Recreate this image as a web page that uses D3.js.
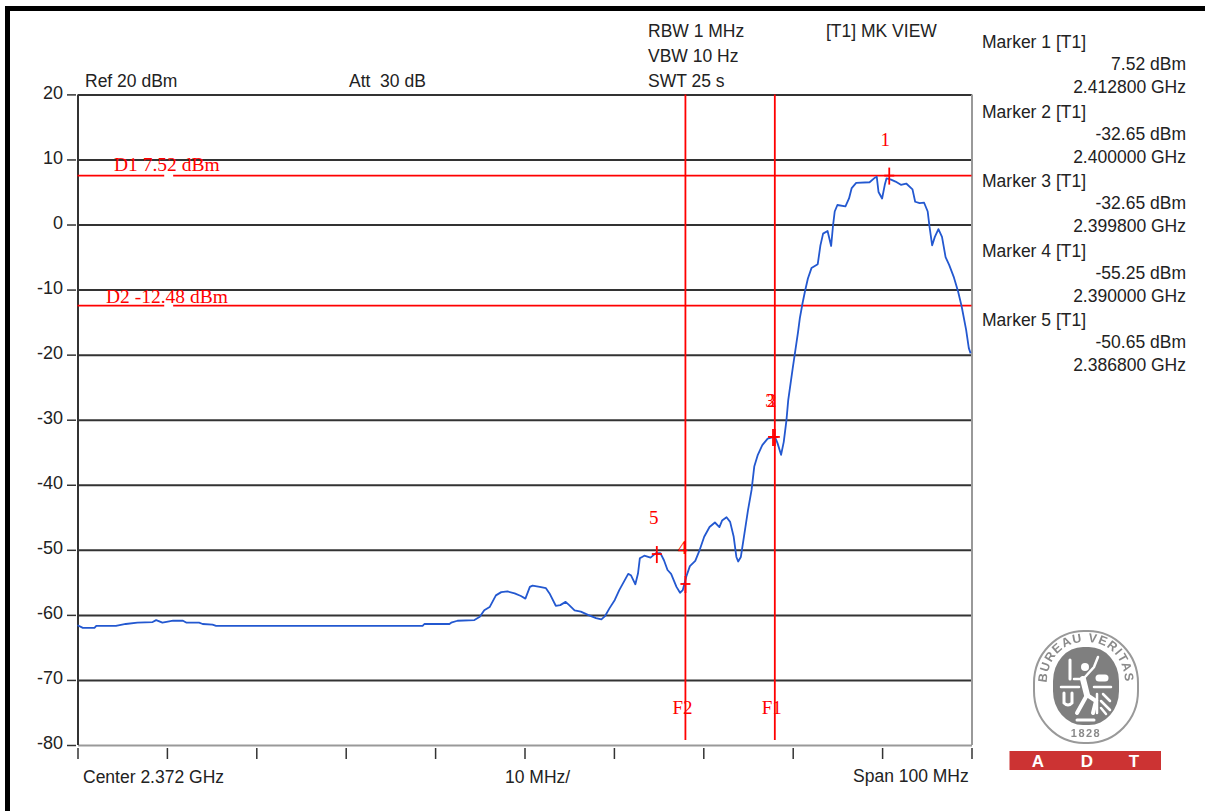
<!DOCTYPE html>
<html>
<head>
<meta charset="utf-8">
<title>Spectrum analyzer trace</title>
<script src="https://d3js.org/d3.v7.min.js"></script>
<style>
  html, body { margin: 0; padding: 0; background: #fff; }
  svg { display: block; }
  text { font-family: "Liberation Sans", Arial, sans-serif; }
  .red { font-family: "Liberation Serif", serif; fill: #f00; }
</style>
</head>
<body>
<div id="chart"></div>
<script>
// Frequency of each trace point, MHz
const traceFreq = [2322.0, 2322.6, 2323.9, 2324.1, 2326.3, 2327.4, 2328.7, 2330.4, 2330.8, 2331.5,
  2332.7, 2333.8, 2334.2, 2335.6, 2336.0, 2337.1, 2337.5, 2360.6, 2360.8, 2363.6,
  2363.8, 2364.5, 2366.4, 2367.0, 2367.5, 2368.1, 2368.8, 2369.4, 2370.1, 2370.9,
  2371.6, 2372.1, 2372.6, 2372.9, 2373.7, 2374.4, 2374.8, 2375.5, 2376.0, 2376.6,
  2377.0, 2377.6, 2378.3, 2379.1, 2380.0, 2380.6, 2381.0, 2381.5, 2382.1, 2382.6,
  2383.2, 2383.6, 2383.9, 2384.4, 2384.7, 2384.9, 2385.4, 2386.1, 2386.7, 2387.2,
  2387.6, 2388.0, 2388.4, 2389.0, 2389.4, 2389.7, 2390.1, 2390.5, 2391.1, 2391.6,
  2392.1, 2392.7, 2393.3, 2393.8, 2394.1, 2394.6, 2395.0, 2395.4, 2395.7, 2395.9,
  2396.2, 2396.6, 2397.0, 2397.4, 2397.7, 2398.1, 2398.6, 2399.2, 2400.0, 2400.3,
  2400.7, 2401.0, 2401.3, 2401.5, 2402.0, 2402.3, 2402.6, 2402.8, 2403.1, 2403.4,
  2403.7, 2404.1, 2404.8, 2405.1, 2405.4, 2405.9, 2406.3, 2406.5, 2406.7, 2407.0,
  2407.9, 2408.3, 2408.6, 2409.1, 2410.6, 2411.2, 2411.4, 2411.6, 2412.0, 2412.3,
  2412.5, 2413.0, 2413.5, 2414.1, 2414.7, 2415.4, 2415.7, 2416.2, 2416.7, 2417.1,
  2417.3, 2417.6, 2417.9, 2418.3, 2418.7, 2419.1, 2419.5, 2420.0, 2420.5, 2420.9,
  2421.4, 2421.7, 2421.9];

// Level of each trace point, dBm
const traceLevel = [-61.6, -62.0, -62.0, -61.7, -61.7, -61.4, -61.2, -61.1, -60.8, -61.2,
  -60.9, -60.9, -61.2, -61.2, -61.4, -61.5, -61.7, -61.7, -61.4, -61.4,
  -61.2, -60.9, -60.8, -60.3, -59.3, -58.8, -57.0, -56.5, -56.4, -56.7,
  -57.1, -57.5, -55.7, -55.5, -55.7, -55.9, -56.7, -58.6, -58.5, -58.0,
  -58.5, -59.3, -59.5, -60.0, -60.5, -60.7, -60.2, -59.0, -57.7, -56.2,
  -54.7, -53.7, -53.9, -55.3, -53.6, -51.3, -50.9, -51.2, -50.5, -50.5,
  -51.6, -53.1, -53.7, -55.7, -56.6, -56.2, -54.1, -52.5, -51.7, -50.0,
  -48.0, -46.5, -45.8, -46.5, -45.5, -45.0, -45.7, -48.0, -51.1, -51.8,
  -51.1, -47.5, -43.9, -40.8, -37.2, -35.4, -33.9, -32.9, -32.6, -33.6,
  -35.4, -33.4, -30.1, -27.0, -22.1, -19.3, -16.5, -14.4, -12.1, -10.1,
  -8.3, -6.7, -6.1, -3.2, -1.4, -1.0, -3.3, -0.3, 2.0, 3.0,
  2.8, 4.0, 5.6, 6.4, 6.5, 7.2, 7.35, 5.0, 4.0, 6.1,
  7.1, 6.9, 6.6, 6.1, 6.3, 5.4, 3.5, 3.3, 3.35, 2.0,
  -0.3, -3.2, -1.9, -0.7, -1.9, -5.0, -6.2, -8.0, -10.3, -12.6,
  -16.2, -19.0, -19.8];

// Axis ticks
const levelTicks = [20, 10, 0, -10, -20, -30, -40, -50, -60, -70, -80];
const freqTicks = [2322, 2332, 2342, 2352, 2362, 2372, 2382, 2392, 2402, 2412, 2422];

// Markers, from the table on the right
const markerNames = ['Marker 1 [T1]', 'Marker 2 [T1]', 'Marker 3 [T1]', 'Marker 4 [T1]', 'Marker 5 [T1]'];
const markerLevels = [7.52, -32.65, -32.65, -55.25, -50.65];
const markerFreqs = [2412.8, 2400.0, 2399.8, 2390.0, 2386.8];
const markerLevelText = ['7.52 dBm', '-32.65 dBm', '-32.65 dBm', '-55.25 dBm', '-50.65 dBm'];
const markerFreqText = ['2.412800 GHz', '2.400000 GHz', '2.399800 GHz', '2.390000 GHz', '2.386800 GHz'];
const markerIds = ['1', '2', '3', '4', '5'];

// Display lines and frequency lines
const displayLevels = [7.52, -12.48];
const displayNames = ['D1 7.52 dBm', 'D2 -12.48 dBm'];
const freqLines = [2390, 2400];
const freqLineNames = ['F2', 'F1'];

const width = 1205;
const height = 811;
const plot = { left: 78, right: 972, top: 94.4, bottom: 745 };

const svg = d3.select('#chart').append('svg')
  .attr('width', width)
  .attr('height', height);

// half a pixel left of the frame, that is where the F lines sit in the picture
const x = d3.scaleLinear().domain([2322, 2422]).range([plot.left - 0.5, plot.right - 0.5]);
const y = d3.scaleLinear().domain([20, -80]).range([plot.top, plot.bottom]);

// Screenshot frame, only top and left show in the picture
svg.append('path')
  .attr('d', `M7.5,${height} V8.5 H${width}`)
  .attr('fill', 'none')
  .attr('stroke', '#000')
  .attr('stroke-width', 5);

// Horizontal grid and level labels
function drawLevelAxis() {
  const axis = svg.append('g')
    .attr('transform', `translate(${plot.left},0)`)
    .call(d3.axisLeft(y).tickValues(levelTicks).tickSize(0).tickPadding(15).tickFormat(d => String(d)));
  axis.select('.domain').remove();
  axis.selectAll('text')
    .attr('font-size', 18)
    .attr('fill', '#222')
    .attr('dy', '0.2em')
    .style('font-family', '"Liberation Sans", Arial, sans-serif');

  // short dash left of the axis
  axis.selectAll('.tick').append('line')
    .attr('x1', -11).attr('x2', -2)
    .attr('stroke', '#333').attr('stroke-width', 1.5);

  // grid lines, the last one at -80 is the gray bottom edge
  axis.selectAll('.tick').append('line')
    .attr('x1', 0).attr('x2', plot.right - plot.left)
    .attr('stroke', d => d === -80 ? '#999' : '#333')
    .attr('stroke-width', 2);
}

// Frequency ticks sit a little below the bottom edge
function drawFreqAxis() {
  const axis = svg.append('g')
    .attr('transform', `translate(0,${plot.bottom + 3})`)
    .call(d3.axisBottom(x).tickValues(freqTicks).tickSize(11).tickFormat(''));
  axis.select('.domain').remove();
  axis.selectAll('line').attr('stroke', '#333').attr('stroke-width', 1.5);
}

function drawFrame() {
  svg.append('line')
    .attr('x1', plot.left).attr('x2', plot.left)
    .attr('y1', plot.top).attr('y2', plot.bottom)
    .attr('stroke', '#333').attr('stroke-width', 2);
  svg.append('line')
    .attr('x1', plot.right).attr('x2', plot.right)
    .attr('y1', plot.top).attr('y2', plot.bottom)
    .attr('stroke', '#999').attr('stroke-width', 2);
}

// Red display lines, F lines and their names
function drawReferenceLines() {
  displayLevels.forEach(level => {
    // the analyzer leaves a gap in the line under the label
    [[2322, 2331.7], [2332.7, 2422]].forEach(seg => {
      svg.append('line')
        .attr('x1', x(seg[0])).attr('x2', x(seg[1]))
        .attr('y1', y(level)).attr('y2', y(level))
        .attr('stroke', '#f00').attr('stroke-width', 1.8);
    });
  });

  svg.selectAll('.dname')
    .data(displayNames)
    .enter().append('text')
    .attr('class', 'red')
    .attr('x', (d, i) => i === 0 ? 114 : 106)
    .attr('y', (d, i) => y(displayLevels[i]) - (i === 0 ? 4.5 : 3))
    .attr('font-size', 19.5)
    .text(d => d);

  freqLines.forEach((f, i) => {
    svg.append('line')
      .attr('x1', x(f)).attr('x2', x(f))
      .attr('y1', plot.top).attr('y2', 740)
      .attr('stroke', '#f00').attr('stroke-width', 1.8);
    svg.append('text')
      .attr('class', 'red')
      .attr('x', x(f) - 3)
      .attr('y', 714)
      .attr('text-anchor', 'middle')
      .attr('font-size', 19)
      .text(freqLineNames[i]);
  });
}

function drawTrace() {
  const line = d3.line()
    .x(d => x(d[0]))
    .y(d => y(d[1]));
  svg.append('path')
    .datum(d3.zip(traceFreq, traceLevel))
    .attr('d', line)
    .attr('fill', 'none')
    .attr('stroke', '#2358d0')
    .attr('stroke-width', 1.8)
    .attr('stroke-linejoin', 'round');
}

// Marker crosses and their numbers
function drawMarkers() {
  markerIds.forEach((id, i) => {
    const mx = x(markerFreqs[i]);
    const my = y(markerLevels[i]);
    const g = svg.append('g').attr('stroke', '#f00').attr('stroke-width', 1.8);
    g.append('line').attr('x1', mx).attr('x2', mx).attr('y1', my - 8).attr('y2', my + 9);
    g.append('line').attr('x1', mx - 5).attr('x2', mx + 5).attr('y1', my).attr('y2', my);

    svg.append('text')
      .attr('class', 'red')
      .attr('x', mx - (id === '1' ? 4 : 3))
      .attr('y', my - 30)
      .attr('text-anchor', 'middle')
      .attr('font-size', 19)
      .text(id);
  });
}

// Black labels around the plot
function drawLabels() {
  const labels = [
    ['Ref 20 dBm', 85, 87],
    ['Att  30 dB', 349, 87],
    ['RBW 1 MHz', 648, 37],
    ['VBW 10 Hz', 648, 62],
    ['SWT 25 s', 648, 87],
    ['[T1] MK VIEW', 826, 37],
    ['Center 2.372 GHz', 83, 783],
    ['10 MHz/', 505, 783],
    ['Span 100 MHz', 853, 782]
  ];
  svg.selectAll('.label')
    .data(labels)
    .enter().append('text')
    .attr('x', d => d[1])
    .attr('y', d => d[2])
    .attr('font-size', 17.5)
    .attr('fill', '#222')
    .style('white-space', 'pre')
    .text(d => d[0]);
}

// Marker table on the right
function drawMarkerTable() {
  const g = svg.append('g').attr('font-size', 17.5).attr('fill', '#222');
  markerNames.forEach((name, i) => {
    const top = 48 + i * 69.5;
    g.append('text').attr('x', 982).attr('y', top).text(name);
    g.append('text').attr('x', 1186).attr('y', top + 22).attr('text-anchor', 'end').text(markerLevelText[i]);
    g.append('text').attr('x', 1186).attr('y', top + 45).attr('text-anchor', 'end').text(markerFreqText[i]);
  });
}

// Bureau Veritas stamp and the ADT bar
function drawLogo() {
  const gray = '#7f7f7f';
  const defs = svg.append('defs');
  defs.append('filter').attr('id', 'soft')
    .append('feGaussianBlur').attr('stdDeviation', 0.5);
  defs.append('path')
    .attr('id', 'ringTop')
    .attr('d', 'M-39,6 C-42,-28 -24,-45 0,-45 C24,-45 42,-28 39,6');

  const logo = svg.append('g')
    .attr('transform', 'translate(1086,687)')
    .attr('filter', 'url(#soft)');

  logo.append('rect')
    .attr('x', -52).attr('y', -56).attr('width', 104).attr('height', 112)
    .attr('rx', 50).attr('ry', 52)
    .attr('fill', '#fff').attr('stroke', '#999').attr('stroke-width', 2);
  logo.append('rect')
    .attr('x', -33).attr('y', -40).attr('width', 66).attr('height', 78)
    .attr('rx', 30).attr('ry', 34)
    .attr('fill', gray);

  // ring text
  logo.append('text')
    .attr('font-size', 12.5)
    .attr('font-weight', 'bold')
    .attr('fill', '#8a8a8a')
    .attr('letter-spacing', 1.2)
    .append('textPath')
    .attr('href', '#ringTop')
    .attr('startOffset', '50%')
    .attr('text-anchor', 'middle')
    .text('BUREAU VERITAS');
  logo.append('text')
    .attr('y', 50)
    .attr('text-anchor', 'middle')
    .attr('font-size', 11)
    .attr('font-weight', 'bold')
    .attr('letter-spacing', 1.5)
    .attr('fill', '#8a8a8a')
    .text('1828');

  // white figure in the middle, only a rough shape
  const fig = logo.append('g').attr('stroke', '#fff').attr('fill', 'none').attr('stroke-linecap', 'round');
  fig.append('path').attr('stroke-width', 6).attr('d', 'M-3,-8 L1,8');
  fig.append('path').attr('stroke-width', 4).attr('d', 'M1,8 L-9,26 M1,8 L10,14 L7,26');
  fig.append('path').attr('stroke-width', 2.5).attr('d', 'M-3,-8 L-12,-8 M-1,-10 L8,-20 L12,-30');
  fig.append('circle').attr('cx', -1).attr('cy', -20).attr('r', 4).attr('fill', '#fff').attr('stroke', 'none');
  fig.append('path').attr('stroke-width', 2.5).attr('d', 'M-25,0 H-7 M8,0 H25');
  // torch, helmet and the two lower emblems
  fig.append('path').attr('stroke-width', 3).attr('d', 'M-16,-27 V-8');
  fig.append('path').attr('stroke-width', 7).attr('d', 'M13,-9 H19');
  fig.append('path').attr('stroke-width', 3).attr('d', 'M-22,6 V16 Q-18,20 -14,16 V6');
  fig.append('path').attr('stroke-width', 2.5).attr('d', 'M11,7 V26 M17,7 L24,14 M15,14 L24,23 M15,21 L20,27');
  fig.append('path').attr('stroke-width', 3).attr('d', 'M-9,33 H8');

  // ADT bar
  svg.append('rect')
    .attr('x', 1009.5).attr('y', 751).attr('width', 151.5).attr('height', 19)
    .attr('fill', '#cc3333');
  svg.selectAll('.adt')
    .data(['A', 'D', 'T'])
    .enter().append('text')
    .attr('x', (d, i) => [1038, 1087, 1134][i])
    .attr('y', 767)
    .attr('text-anchor', 'middle')
    .attr('font-size', 17)
    .attr('font-weight', 'bold')
    .attr('fill', '#fff')
    .text(d => d);
}

drawLevelAxis();
drawFreqAxis();
drawFrame();
drawReferenceLines();
drawTrace();
drawMarkers();
drawLabels();
drawMarkerTable();
drawLogo();
</script>
</body>
</html>
